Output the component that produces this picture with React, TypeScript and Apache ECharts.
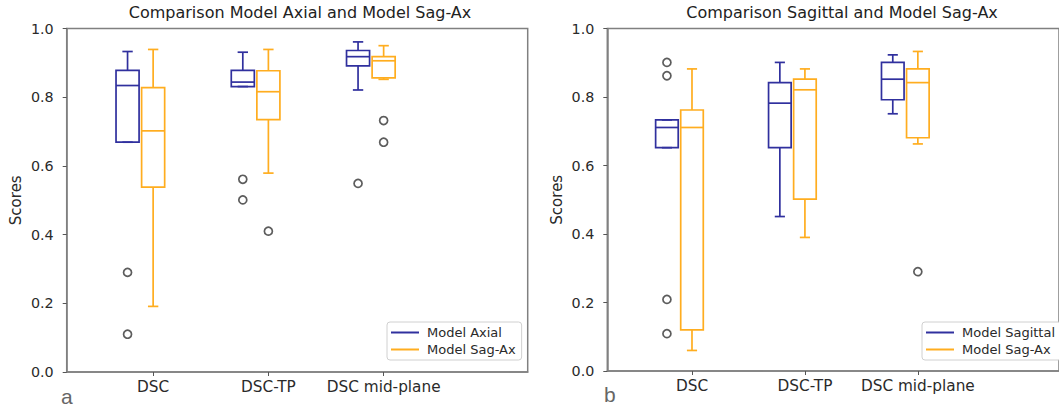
import React, { useEffect, useRef } from "react";
import * as echarts from "echarts";

// ---------- data ----------
const categories = ["DSC", "DSC-TP", "DSC mid-plane"];

// stats per category: [lowerWhisker, Q1, median, Q3, upperWhisker]
const axialStats = [
  [0.669, 0.669, 0.834, 0.878, 0.933],
  [0.831, 0.831, 0.844, 0.878, 0.931],
  [0.821, 0.891, 0.918, 0.936, 0.961],
];
const sagAxStatsA = [
  [0.191, 0.538, 0.702, 0.828, 0.939],
  [0.579, 0.735, 0.816, 0.877, 0.939],
  [0.852, 0.856, 0.906, 0.918, 0.95],
];
const axialOutliers = [[0.29, 0.11], [0.561, 0.501], [0.549]];
const sagAxOutliersA = [[], [0.41], [0.732, 0.669]];

const sagittalStats = [
  [0.652, 0.652, 0.711, 0.733, 0.733],
  [0.451, 0.652, 0.782, 0.842, 0.901],
  [0.751, 0.792, 0.852, 0.901, 0.923],
];
const sagAxStatsB = [
  [0.06, 0.12, 0.711, 0.762, 0.882],
  [0.39, 0.502, 0.821, 0.852, 0.882],
  [0.663, 0.681, 0.842, 0.882, 0.933],
];
const sagittalOutliers = [[0.901, 0.862, 0.209, 0.109], [], []];
const sagAxOutliersB = [[], [], [0.29]];

const yTicks = [0, 0.2, 0.4, 0.6, 0.8, 1.0];

// ---------- styling ----------
const BLUE = "#30309e";
const ORANGE = "#ffad1f";
const FONT = "DejaVu Sans";
const TEXT = "#2a2a2a";
const BOX_W = 0.2;
const CAP_W = 0.09;
const OFFSET_LEFT = -0.222;
const AXIS_COLOR = "#808080";

function boxData(stats: number[][], offset: number) {
  return stats.map((s, i) => [i + 1 + offset, ...s]);
}
function outlierData(out: number[][], offset: number) {
  const res: number[][] = [];
  out.forEach((arr, i) => arr.forEach((v) => res.push([i + 1 + offset, v])));
  return res;
}

function makeRender(color: string) {
  return (params: any, api: any) => {
    const x = api.value(0);
    const lo = api.value(1);
    const q1 = api.value(2);
    const med = api.value(3);
    const q3 = api.value(4);
    const hi = api.value(5);
    const tl = api.coord([x - BOX_W / 2, q3]);
    const br = api.coord([x + BOX_W / 2, q1]);
    const c = api.coord([x, med]);
    const pHi = api.coord([x, hi]);
    const pLo = api.coord([x, lo]);
    const capL = api.coord([x - CAP_W / 2, hi])[0];
    const capR = api.coord([x + CAP_W / 2, hi])[0];
    const style = { stroke: color, lineWidth: 1.7, fill: "transparent" };
    return {
      type: "group",
      children: [
        { type: "line", shape: { x1: c[0], y1: pHi[1], x2: c[0], y2: tl[1] }, style },
        { type: "line", shape: { x1: c[0], y1: br[1], x2: c[0], y2: pLo[1] }, style },
        { type: "line", shape: { x1: capL, y1: pHi[1], x2: capR, y2: pHi[1] }, style },
        { type: "line", shape: { x1: capL, y1: pLo[1], x2: capR, y2: pLo[1] }, style },
        { type: "rect", shape: { x: tl[0], y: tl[1], width: br[0] - tl[0], height: br[1] - tl[1] }, style },
        { type: "line", shape: { x1: tl[0], y1: c[1], x2: br[0], y2: c[1] }, style },
      ],
    };
  };
}

function xAxisCfg(gridIndex: number) {
  return {
    type: "value",
    gridIndex,
    min: 0.25,
    max: 4.25,
    splitLine: { show: false },
    axisLine: { show: true, lineStyle: { color: AXIS_COLOR, width: 1.5 } },
    axisTick: { show: true, customValues: [1, 2, 3], length: 4, lineStyle: { color: "#555", width: 1 } },
    axisLabel: {
      customValues: [1, 2, 3],
      formatter: (v: number) => categories[Math.round(v) - 1] ?? "",
      fontFamily: FONT,
      fontSize: 15.3,
      color: TEXT,
      margin: 7,
    },
  };
}

function yAxisCfg(gridIndex: number) {
  return {
    type: "value",
    gridIndex,
    min: yTicks[0],
    max: yTicks[yTicks.length - 1],
    interval: 0.2,
    name: "Scores",
    nameLocation: "middle",
    nameGap: 43,
    nameRotate: 90,
    nameTextStyle: { fontFamily: FONT, fontSize: 15, color: TEXT },
    splitLine: { show: false },
    axisLine: { show: true, lineStyle: { color: AXIS_COLOR, width: 1.5 } },
    axisTick: { show: true, length: 4, lineStyle: { color: "#555", width: 1 } },
    axisLabel: {
      formatter: (v: number) => v.toFixed(1),
      fontFamily: FONT,
      fontSize: 14.3,
      color: TEXT,
      margin: 13,
    },
  };
}

function legendCfg(left: number, names: string[]) {
  return {
    orient: "vertical",
    left,
    top: 322,
    data: names.map((n) => ({ name: n, icon: "rect" })),
    itemWidth: 28,
    itemHeight: 2,
    itemGap: 4,
    padding: [4, 6, 4, 4],
    borderColor: "#d0d0d0",
    borderWidth: 1,
    borderRadius: 3,
    backgroundColor: "#fff",
    textStyle: { fontFamily: FONT, fontSize: 13, color: TEXT, padding: [0, 0, 0, 3] },
  };
}

function outlierSeries(name: string, data: number[][], idx: number) {
  return {
    type: "scatter",
    name,
    xAxisIndex: idx,
    yAxisIndex: idx,
    data,
    symbol: "circle",
    symbolSize: 8,
    itemStyle: { color: "#fff", borderColor: "#333", borderWidth: 1.7 },
    z: 3,
  };
}

function boxSeries(name: string, stats: number[][], offset: number, color: string, idx: number) {
  return {
    type: "custom",
    name,
    xAxisIndex: idx,
    yAxisIndex: idx,
    data: boxData(stats, offset),
    encode: { x: 0, y: [1, 2, 3, 4, 5] },
    itemStyle: { color },
    renderItem: makeRender(color),
    z: 2,
  };
}

export default function App() {
  const ref = useRef<HTMLDivElement>(null);
  useEffect(() => {
    if (!ref.current) return;
    const chart = echarts.init(ref.current, undefined, { renderer: "svg" });
    const gridStyle = { show: true, borderColor: AXIS_COLOR, borderWidth: 1.5, containLabel: false };
    const titleStyle = { fontFamily: FONT, fontSize: 16, fontWeight: "normal", color: "#222" };
    chart.setOption({
      animation: false,
      backgroundColor: "#fff",
      title: [
        {
          text: "Comparison Model Axial and Model Sag-Ax",
          left: 296,
          textAlign: "center",
          top: 0,
          padding: 4,
          textStyle: titleStyle,
        },
        {
          text: "Comparison Sagittal and Model Sag-Ax",
          left: 838,
          textAlign: "center",
          top: 0,
          padding: 4,
          textStyle: titleStyle,
        },
      ],
      grid: [
        { left: 66.7, top: 28.5, width: 461, height: 343.5, ...gridStyle },
        { left: 607.3, top: 28.5, width: 461, height: 342.5, ...gridStyle },
      ],
      xAxis: [xAxisCfg(0), xAxisCfg(1)],
      yAxis: [yAxisCfg(0), yAxisCfg(1)],
      legend: [
        legendCfg(387, ["Model Axial", "Model Sag-Ax"]),
        legendCfg(922, ["Model Sagittal", "Model Sag-Ax"]),
      ],
      series: [
        boxSeries("Model Axial", axialStats, OFFSET_LEFT, BLUE, 0),
        boxSeries("Model Sag-Ax", sagAxStatsA, 0, ORANGE, 0),
        outlierSeries("outA1", outlierData(axialOutliers, OFFSET_LEFT), 0),
        outlierSeries("outA2", outlierData(sagAxOutliersA, 0), 0),
        boxSeries("Model Sagittal", sagittalStats, OFFSET_LEFT, BLUE, 1),
        boxSeries("Model Sag-Ax", sagAxStatsB, 0, ORANGE, 1),
        outlierSeries("outB1", outlierData(sagittalOutliers, OFFSET_LEFT), 1),
        outlierSeries("outB2", outlierData(sagAxOutliersB, 0), 1),
      ],
      graphic: [
        { type: "text", left: 61, top: 386, style: { text: "a", fontFamily: "Liberation Sans", fontSize: 21, fill: "#666" } },
        { type: "text", left: 604, top: 384, style: { text: "b", fontFamily: "Liberation Sans", fontSize: 21, fill: "#666" } },
      ],
    });
    return () => chart.dispose();
  }, []);
  return (
    <div
      ref={ref}
      style={{ position: "fixed", left: 0, top: 0, width: 1059, height: 412, background: "#fff" }}
    />
  );
}
